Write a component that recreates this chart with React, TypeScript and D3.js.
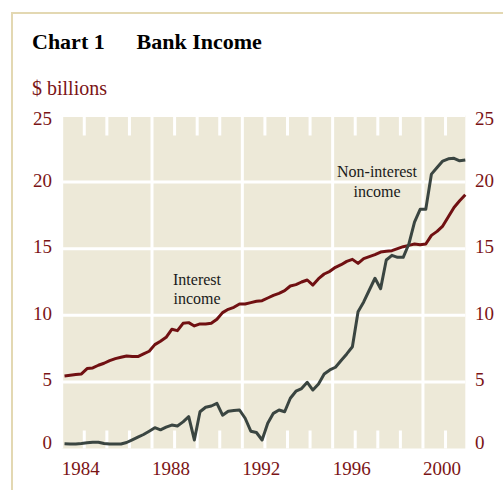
import React from "react";
import * as d3 from "d3";

const startYear = 1984;
const interestIncome = [
  5.45, 5.5, 5.55, 5.6, 6.0, 6.05, 6.25, 6.4, 6.6, 6.75, 6.85, 6.95,
  6.9, 6.9, 7.1, 7.3, 7.8, 8.05, 8.35, 8.95, 8.85, 9.4, 9.45, 9.2,
  9.35, 9.35, 9.4, 9.7, 10.2, 10.45, 10.6, 10.85, 10.85, 10.95, 11.05, 11.1,
  11.3, 11.5, 11.65, 11.85, 12.2, 12.3, 12.5, 12.65, 12.27, 12.75, 13.1, 13.3,
  13.6, 13.8, 14.05, 14.2, 13.9, 14.25, 14.4, 14.55, 14.75, 14.8, 14.85, 15.0,
  15.15, 15.25, 15.35, 15.3, 15.35, 16.0, 16.3, 16.7, 17.4, 18.1, 18.6, 19.05,
];
const nonInterestIncome = [
  0.35, 0.33, 0.34, 0.38, 0.43, 0.47, 0.47, 0.38, 0.33, 0.33, 0.34, 0.45,
  0.65, 0.85, 1.05, 1.3, 1.56, 1.4, 1.6, 1.76, 1.69, 2.0, 2.39, 0.64,
  2.76, 3.1, 3.19, 3.39, 2.5, 2.8, 2.85, 2.89, 2.27, 1.3, 1.2, 0.64,
  1.89, 2.64, 2.89, 2.76, 3.77, 4.3, 4.5, 4.97, 4.39, 4.85, 5.6, 5.9,
  6.1, 6.6, 7.1, 7.64, 10.27, 11.0, 11.9, 12.78, 12.0, 14.15, 14.5, 14.35,
  14.35, 15.35, 17.0, 17.96, 17.96, 20.6, 21.1, 21.58, 21.75, 21.79, 21.6, 21.66,
];
const yTicks = [0, 5, 10, 15, 20, 25];
const xLabelYears = [1984, 1988, 1992, 1996, 2000];
const minorYears = d3.range(1985, 2002).filter((y) => y % 4 !== 0);

const RED = "#701012";
const GREY = "#3a4541";
const LABEL = "#7b1416";
const BG = "#ede9d8";
const FONT = "'Liberation Serif', 'Times New Roman', serif";

export default function App() {
  const x = d3.scaleLinear().domain([1984, 2001.875]).range([61.7, 465.3]);
  const y = d3.scaleLinear().domain([0, 25]).range([448.5, 115.5]);
  const t = (i: number) => startYear + 0.125 + i * 0.25;

  const line = d3
    .line<number>()
    .x((_, i) => x(t(i)))
    .y((d) => y(d))
    .curve(d3.curveLinear);

  const [x0, x1] = x.range();
  const [yb, yt] = y.range();

  return (
    <svg
      width={503}
      height={490}
      style={{ position: "absolute", left: 0, top: 0, background: "#fff" }}
      fontFamily={FONT}
    >
      {/* frame */}
      <line x1={12} y1={13} x2={503} y2={13} stroke="#e3d8b2" strokeWidth={2} />
      <line x1={12} y1={12} x2={12} y2={490} stroke="#e3d8b2" strokeWidth={2} />

      <text x={32} y={49} fontSize={22} fontWeight="bold" fill="#000">
        Chart 1
      </text>
      <text x={136.5} y={49} fontSize={22} fontWeight="bold" fill="#000">
        Bank Income
      </text>
      <text x={32} y={95} fontSize={20} fill={LABEL}>
        $ billions
      </text>

      {/* plot background */}
      <rect x={x0} y={yt} width={x1 - x0} height={yb - yt} fill={BG} />

      {/* horizontal gridlines */}
      {yTicks
        .filter((v) => v > 0)
        .map((v) => (
          <line key={"h" + v} x1={x0} x2={x1} y1={y(v)} y2={y(v)} stroke="#fff" strokeWidth={3} />
        ))}
      {/* vertical gridlines */}
      {xLabelYears.map((yr) => (
        <line key={"v" + yr} x1={x(yr)} x2={x(yr)} y1={yt} y2={yb} stroke="#fff" strokeWidth={3} />
      ))}
      {/* minor ticks */}
      {minorYears.map((yr) => (
        <g key={"m" + yr}>
          <line x1={x(yr)} x2={x(yr)} y1={yt} y2={yt + 20} stroke="#fff" strokeWidth={3} />
          <line x1={x(yr)} x2={x(yr)} y1={yb - 18} y2={yb} stroke="#fff" strokeWidth={3} />
        </g>
      ))}

      {/* lines */}
      <path d={line(interestIncome) || ""} fill="none" stroke={RED} strokeWidth={3} strokeLinejoin="round" />
      <path d={line(nonInterestIncome) || ""} fill="none" stroke={GREY} strokeWidth={3} strokeLinejoin="round" />

      {/* annotations */}
      <text x={197} y={285} fontSize={16} fill="#1a1a1a" textAnchor="middle">
        Interest
      </text>
      <text x={197} y={304} fontSize={16} fill="#1a1a1a" textAnchor="middle">
        income
      </text>
      <text x={377} y={177} fontSize={16} fill="#1a1a1a" textAnchor="middle">
        Non-interest
      </text>
      <text x={377} y={196.5} fontSize={16} fill="#1a1a1a" textAnchor="middle">
        income
      </text>

      {/* y labels */}
      {yTicks.map((v) => {
        const cy = Math.min(443, Math.max(119, y(v) - 2));
        return (
          <g key={"yl" + v}>
            <text x={52} y={cy} dy="0.34em" fontSize={19} fill={LABEL} textAnchor="end">
              {v}
            </text>
            <text x={475} y={cy} dy="0.34em" fontSize={19} fill={LABEL} textAnchor="start">
              {v}
            </text>
          </g>
        );
      })}

      {/* x labels */}
      {xLabelYears.map((yr) => (
        <text key={"xl" + yr} x={x(yr)} y={475} fontSize={19} fill={LABEL}>
          {yr}
        </text>
      ))}
    </svg>
  );
}
